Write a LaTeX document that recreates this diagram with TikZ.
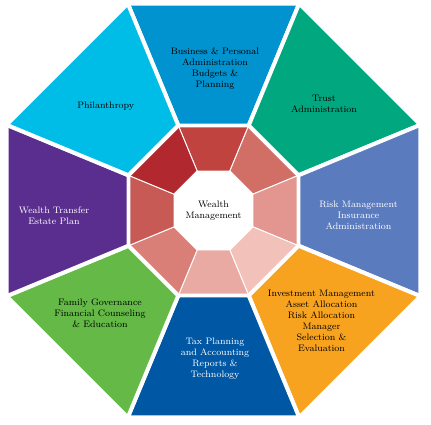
\documentclass[tikz,border=0pt]{standalone}
\usepackage{tikz}
\usetikzlibrary{shapes.geometric,positioning}
\usepackage{xcolor}

\definecolor{bizblue}{HTML}{0093D0}
\definecolor{trustgreen}{HTML}{00A77F}
\definecolor{riskblue}{HTML}{5B7BBF}
\definecolor{investorange}{HTML}{F8A31F}
\definecolor{taxblue}{HTML}{0058A5}
\definecolor{familygreen}{HTML}{65BA47}
\definecolor{transferpurple}{HTML}{5A2E8E}
\definecolor{philcyan}{HTML}{00BDE8}
\definecolor{redA}{HTML}{C0433F}
\definecolor{redB}{HTML}{D16F67}
\definecolor{redC}{HTML}{E3968F}
\definecolor{redD}{HTML}{F1C1BA}
\definecolor{redE}{HTML}{E9AAA4}
\definecolor{redF}{HTML}{D97F77}
\definecolor{redG}{HTML}{C75A54}
\definecolor{redH}{HTML}{B1292F}

\begin{document}
\begin{tikzpicture}[
				x=0.03cm,y=0.03cm,
				seg/.style={draw=white,line width=3.4pt,line join=round},
				ringseg/.style={draw=white,line width=0.8pt},
				hub/.style={regular polygon,regular polygon sides=8,fill=white,draw=white,line width=0.8pt,minimum size=2.46cm,inner sep=0pt,align=center,font=\fontsize{8}{9.4}\selectfont},
				lbl/.style={align=center,font=\fontsize{8}{9.4}\selectfont},
				lblw/.style={lbl,text=white}
				]
				\useasboundingbox (-213.5,-213.5) rectangle (217.5,210.5);
				
				% Anello interno
				\foreach \a/\c in {90/redA,45/redB,0/redC,-45/redD,-90/redE,-135/redF,180/redG,135/redH}
				\filldraw[ringseg,fill=\c] (\a-22.5:41) -- (\a-22.5:92) -- (\a+22.5:92) -- (\a+22.5:41) -- cycle;
				
				% Settori esterni
				\foreach \a/\c in {90/bizblue,45/trustgreen,0/riskblue,-45/investorange,-90/taxblue,-135/familygreen,180/transferpurple,135/philcyan}
				\filldraw[seg,fill=\c] (\a-22.5:92) -- (\a-22.5:224) -- (\a+22.5:224) -- (\a+22.5:92) -- cycle;
				
				\node[hub] (wm) at (0,0) {Wealth\\Management};
				
				% Etichette
				\node[lbl] (biz) at (1.5,141.5) {Business \& Personal\\Administration\\Budgets \&\\Planning};
				\node[lbl] (trust) at (110.5,106.8) {Trust\\Administration};
				\node[lblw] (risk) at (145,-4.5) {Risk Management\\Insurance\\Administration};
				\node[lbl] (invest) at (108,-110) {Investment Management\\Asset Allocation\\Risk Allocation\\Manager\\Selection \&\\Evaluation};
				\node[lblw] (tax) at (1.5,-148) {Tax Planning\\and Accounting\\Reports \&\\Technology};
				\node[lbl] (family) at (-113.5,-103) {Family Governance\\Financial Counseling\\\& Education};
				\node[lblw] (transfer) at (-159.5,-5.2) {Wealth Transfer\\Estate Plan};
				\node[lbl] (phil) at (-107.8,104.5) {Philanthropy};
				
			\end{tikzpicture}
\end{document}
